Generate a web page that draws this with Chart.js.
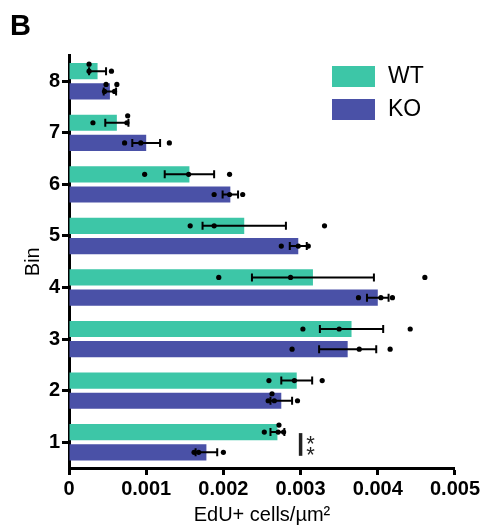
<!DOCTYPE html>
<html>
<head>
<meta charset="utf-8">
<script src="https://cdn.jsdelivr.net/npm/chart.js@4.4.1/dist/chart.umd.min.js"></script>
<style>
  html, body { margin: 0; padding: 0; background: #fff; }
  #wrap { width: 482px; height: 532px; }
</style>
</head>
<body>
<div id="wrap"><canvas id="chart" width="482" height="532"></canvas></div>
<script>
// Bins run top to bottom, 8 down to 1
const bins = ['8', '7', '6', '5', '4', '3', '2', '1'];
const xTickLabels = ['0', '0.001', '0.002', '0.003', '0.004', '0.005'];

const wtMean = [0.00037, 0.00062, 0.00156, 0.00227, 0.00316, 0.00366, 0.00295, 0.00270];
const wtSem  = [0.00011, 0.00015, 0.00032, 0.00054, 0.00079, 0.00041, 0.00020, 0.00009];
const koMean = [0.00053, 0.00100, 0.00209, 0.00297, 0.00400, 0.00361, 0.00275, 0.00178];
const koSem  = [0.00008, 0.00018, 0.00010, 0.00011, 0.00014, 0.00037, 0.00014, 0.00014];

// individual animals
const wtPoints = [
  [0.00026, 0.00026, 0.00055],
  [0.00031, 0.00075, 0.00076],
  [0.00098, 0.00155, 0.00208],
  [0.00157, 0.00188, 0.00331],
  [0.00194, 0.00287, 0.00461],
  [0.00303, 0.00350, 0.00442],
  [0.00259, 0.00292, 0.00328],
  [0.00253, 0.00271, 0.00272, 0.00278]
];
const koPoints = [
  [0.00046, 0.00048, 0.00059, 0.00062],
  [0.00072, 0.00093, 0.00130],
  [0.00188, 0.00208, 0.00225],
  [0.00275, 0.00297, 0.00310],
  [0.00375, 0.00404, 0.00419],
  [0.00289, 0.00376, 0.00416],
  [0.00258, 0.00263, 0.00266, 0.00296],
  [0.00162, 0.00168, 0.00200]
];

// significance mark (WT vs KO, bin 1)
const sigBin = '1';
const sigX = 0.003;
const sigLabel = '**';

const WT_COLOR = '#3dc6a7';
const KO_COLOR = '#4a51a7';

Chart.defaults.font.family = '"Liberation Sans", Arial, sans-serif';
Chart.defaults.color = '#000';

// Simple vertical jitter so overlapping dots stay visible
function placeDots(xs, yc) {
  const placed = [];
  const offs = [0, -4, 4, -7, 7];
  xs.forEach(px => {
    for (const o of offs) {
      const clash = placed.some(p => Math.abs(p.x - px) < 4.5 && Math.abs(p.y - (yc + o)) < 4.5);
      if (!clash) { placed.push({ x: px, y: yc + o }); return; }
    }
    placed.push({ x: px, y: yc });
  });
  return placed;
}

// Plugin: SEM error bars and scatter dots on top of the bars
const errorDotsPlugin = {
  id: 'errorDots',
  afterDatasetsDraw(chart) {
    const { ctx, scales: { x } } = chart;
    const sems = [wtSem, koSem];
    const pts = [wtPoints, koPoints];
    ctx.save();
    chart.data.datasets.forEach((ds, di) => {
      const meta = chart.getDatasetMeta(di);
      meta.data.forEach((bar, i) => {
        const y = bar.y;
        const lo = x.getPixelForValue(ds.data[i] - sems[di][i]);
        const hi = x.getPixelForValue(ds.data[i] + sems[di][i]);
        ctx.strokeStyle = '#000';
        ctx.lineWidth = 2;
        ctx.beginPath();
        ctx.moveTo(lo, y); ctx.lineTo(hi, y);
        ctx.moveTo(lo, y - 4); ctx.lineTo(lo, y + 4);
        ctx.moveTo(hi, y - 4); ctx.lineTo(hi, y + 4);
        ctx.stroke();
        const xs = pts[di][i].map(v => x.getPixelForValue(v));
        ctx.fillStyle = '#000';
        placeDots(xs, y).forEach(p => {
          ctx.beginPath();
          ctx.arc(p.x, p.y, 2.6, 0, Math.PI * 2);
          ctx.fill();
        });
      });
    });

    // significance bar and stars
    const idx = bins.indexOf(sigBin);
    const wtBar = chart.getDatasetMeta(0).data[idx];
    const koBar = chart.getDatasetMeta(1).data[idx];
    const sx = x.getPixelForValue(sigX);
    ctx.fillStyle = '#222';
    ctx.fillRect(sx - 1.75, wtBar.y + 1, 3.5, koBar.y - wtBar.y + 2.5);
    ctx.font = '22px "Liberation Sans", Arial, sans-serif';
    ctx.textAlign = 'center';
    ctx.textBaseline = 'alphabetic';
    const mid = (wtBar.y + koBar.y) / 2 + 2;
    const stars = sigLabel.split('');
    stars.forEach((s, k) => {
      const cy = mid + (k - (stars.length - 1) / 2) * 11;
      ctx.fillText(s, sx + 10, cy + 12.5);
    });
    ctx.restore();
  }
};

// Plugin: legend drawn inside the plot, upper right
const legendPlugin = {
  id: 'insideLegend',
  afterDraw(chart) {
    const { ctx } = chart;
    ctx.save();
    ctx.font = '23px "Liberation Sans", Arial, sans-serif';
    ctx.textBaseline = 'middle';
    ctx.textAlign = 'left';
    chart.data.datasets.forEach((ds, i) => {
      const top = 66 + i * 33;
      ctx.fillStyle = ds.backgroundColor;
      ctx.fillRect(332, top, 43, 21);
      ctx.fillStyle = '#000';
      ctx.fillText(ds.label, 388, top + 11);
    });
    ctx.restore();
  }
};

new Chart(document.getElementById('chart'), {
  type: 'bar',
  data: {
    labels: bins,
    datasets: [
      { label: 'WT', data: wtMean, backgroundColor: WT_COLOR, borderWidth: 0 },
      { label: 'KO', data: koMean, backgroundColor: KO_COLOR, borderWidth: 0 }
    ]
  },
  options: {
    indexAxis: 'y',
    responsive: false,
    animation: false,
    categoryPercentage: 0.784,
    barPercentage: 0.8,
    layout: { padding: { left: 10, right: 0, top: 0, bottom: 0 } },
    scales: {
      x: {
        type: 'linear',
        min: 0,
        max: 0.005,
        ticks: {
          stepSize: 0.001,
          autoSkip: false,
          maxRotation: 0,
          padding: 2,
          color: '#000',
          font: { size: 20, weight: 'bold' },
          callback: (v, i) => xTickLabels[i] ?? ''
        },
        grid: { drawOnChartArea: false, drawTicks: true, tickLength: 7, tickWidth: 3, tickColor: '#000' },
        border: { color: '#000', width: 3 },
        title: {
          display: true,
          text: 'EdU+ cells/µm²',
          color: '#000',
          font: { size: 20 },
          padding: { top: 0, bottom: 5 }
        },
        afterFit: s => { s.height = 64; }
      },
      y: {
        type: 'category',
        offset: true,
        ticks: { padding: 2, color: '#000', font: { size: 20, weight: 'bold' } },
        grid: { offset: false, drawOnChartArea: false, drawTicks: true, tickLength: 7, tickWidth: 3, tickColor: '#000' },
        border: { color: '#000', width: 3 },
        title: {
          display: true,
          text: 'Bin',
          color: '#000',
          font: { size: 20 },
          padding: { top: 11, bottom: 0 }
        },
        afterFit: s => { s.width = 59; }
      }
    },
    plugins: {
      legend: { display: false },
      tooltip: { enabled: false },
      title: {
        display: true,
        text: 'B',
        align: 'start',
        color: '#000',
        font: { size: 29, weight: 'bold' },
        padding: { top: 10, bottom: 10.7 }
      }
    }
  },
  plugins: [errorDotsPlugin, legendPlugin]
});
</script>
</body>
</html>
